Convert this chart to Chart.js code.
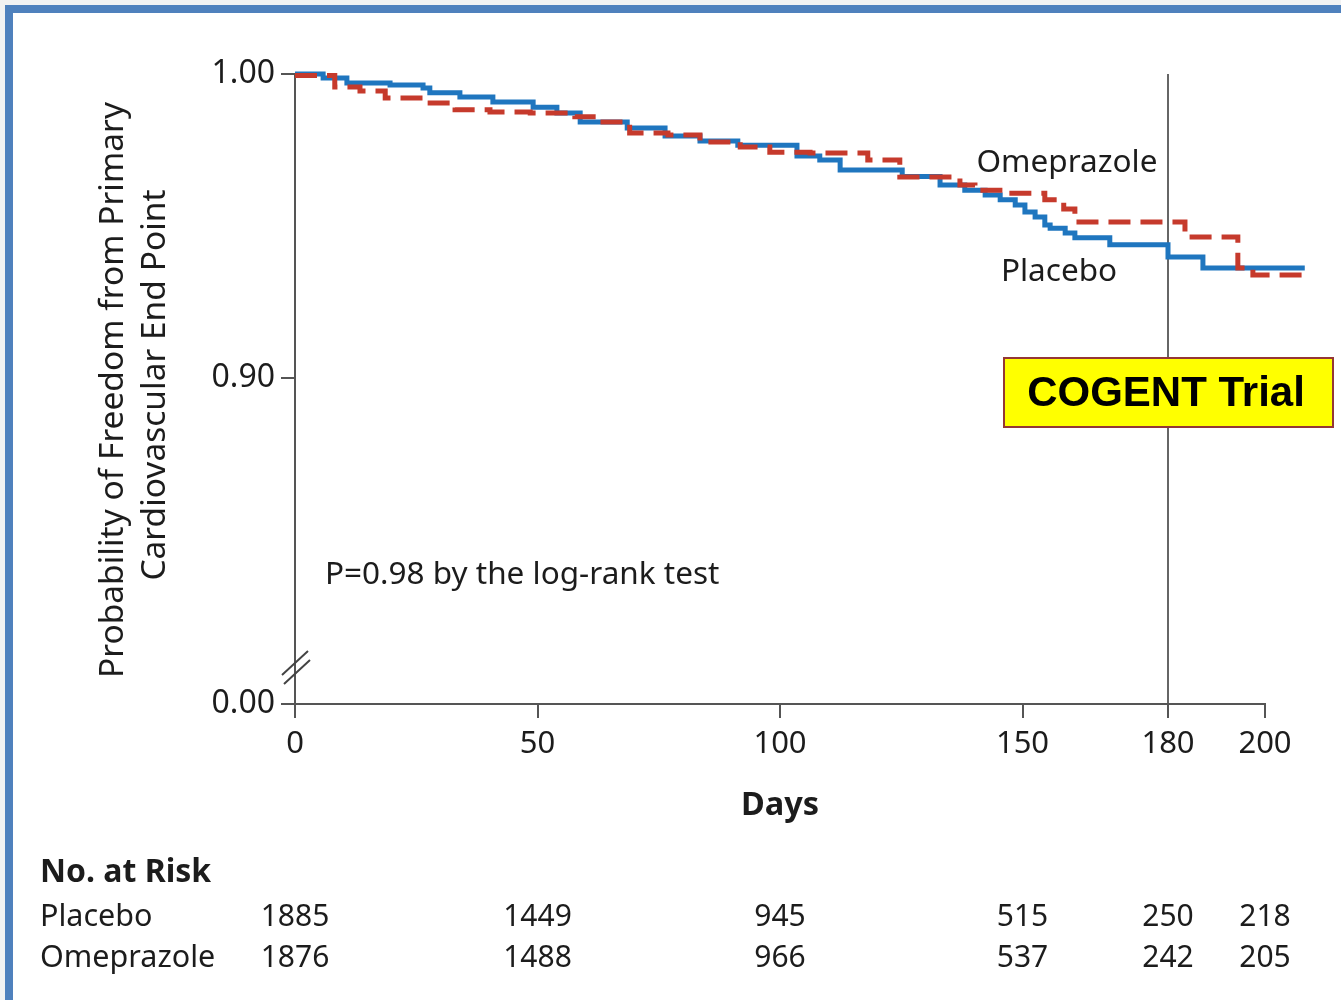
<!DOCTYPE html>
<html>
<head>
<meta charset="utf-8">
<script src="https://cdn.jsdelivr.net/npm/chart.js@4/dist/chart.umd.min.js"></script>
<style>
  html, body { margin: 0; padding: 0; background: #f2f2f2; overflow: hidden; }
  .frame { position: absolute; left: 5px; top: 5px; width: 1400px; height: 1100px;
           border: 8px solid #4f81bd; background: #fff; }
  #kmChart { position: absolute; left: 0; top: 0; }
</style>
</head>
<body>
<div class="frame"></div>
<canvas id="kmChart" width="1341" height="1000"></canvas>
<script>
// Kaplan-Meier steps
const placeboDays = [0, 5.8, 10.7, 19.6, 26.4, 27.8, 34, 40.8, 49.1, 54, 58.8, 68.5, 76.3, 83.5, 91.3, 103.5, 108.2, 112.4, 125.2, 133, 138.1, 142.3, 145.4, 148.5, 150.5, 152.6, 154.6, 155.7, 158.8, 160.8, 168, 180, 187.2, 208.2];
const placeboSurv = [1.000, 0.9987, 0.997, 0.9964, 0.9954, 0.9938, 0.9924, 0.9908, 0.9891, 0.9872, 0.9842, 0.9822, 0.9796, 0.978, 0.9766, 0.973, 0.9717, 0.9684, 0.9663, 0.9635, 0.9618, 0.9602, 0.9586, 0.9569, 0.9546, 0.953, 0.9503, 0.9493, 0.9477, 0.9461, 0.9438, 0.9398, 0.9362, 0.9362];

const omeprazoleDays = [0, 8.2, 13.4, 18.6, 26.8, 33, 40.2, 48.5, 57.7, 62.9, 69, 76.9, 83.5, 91.8, 97.9, 106.2, 118.1, 124.7, 137.1, 140.2, 146.4, 154.6, 158.5, 160.8, 183.5, 194.4, 197.5, 208.2];
const omeprazoleSurv = [0.9995, 0.9957, 0.9944, 0.9921, 0.9905, 0.9882, 0.9875, 0.9872, 0.9859, 0.9842, 0.9806, 0.9799, 0.9776, 0.976, 0.9743, 0.974, 0.9717, 0.9661, 0.9635, 0.9618, 0.9608, 0.9586, 0.9556, 0.9513, 0.9464, 0.9362, 0.9339, 0.9339];

// axis ticks
const xTicks = [0, 50, 100, 150, 180, 200];
const yTicks = [0.90, 1.00];
const yBreak = 0.79276; // bottom of broken axis, labelled 0.00

// number at risk
const riskDays = [0, 50, 100, 150, 180, 200];
const placeboRisk = [1885, 1449, 945, 515, 250, 218];
const omeprazoleRisk = [1876, 1488, 966, 537, 242, 205];

const FONT = '"Noto Sans", "Open Sans", sans-serif';
const TXT = '#1c1c1c';

function toPoints(days, surv) {
    return days.map((d, i) => ({ x: d, y: surv[i] }));
}

// texte, break marks, no-at-risk table
const extrasPlugin = {
    id: 'extras',
    afterDraw(chart) {
        const ctx = chart.ctx;
        const xs = chart.scales.x;
        ctx.save();
        ctx.fillStyle = TXT;
        ctx.textBaseline = 'middle';

        // axis break
        ctx.strokeStyle = '#444';
        ctx.lineWidth = 2;
        ctx.beginPath();
        ctx.moveTo(282, 675); ctx.lineTo(308, 651);
        ctx.moveTo(284, 684); ctx.lineTo(310, 660);
        ctx.stroke();

        // y axis title
        ctx.save();
        ctx.translate(113, 390);
        ctx.rotate(-Math.PI / 2);
        ctx.textAlign = 'center';
        ctx.font = '33.5px ' + FONT;
        ctx.fillText('Probability of Freedom from Primary', 0, 0);
        ctx.fillText('Cardiovascular End Point', 5, 42);
        ctx.restore();

        ctx.font = '31.5px ' + FONT;
        ctx.textAlign = 'center';
        ctx.fillText('Omeprazole', 1067, 163);
        ctx.fillText('Placebo', 1059, 272);
        ctx.textAlign = 'left';
        ctx.fillText('P=0.98 by the log-rank test', 325, 575);

        ctx.font = 'bold 32.5px ' + FONT;
        ctx.textAlign = 'center';
        ctx.fillText('Days', 780, 806);

        // no. at risk
        ctx.textAlign = 'left';
        ctx.font = 'bold 32px ' + FONT;
        ctx.fillText('No. at Risk', 40, 873);
        ctx.font = '30.5px ' + FONT;
        ctx.fillText('Placebo', 40, 917);
        ctx.fillText('Omeprazole', 40, 958);
        ctx.font = '30px ' + FONT;
        ctx.textAlign = 'center';
        riskDays.forEach((d, i) => {
            const px = xs.getPixelForValue(d);
            ctx.fillText(String(placeboRisk[i]), px, 917);
            ctx.fillText(String(omeprazoleRisk[i]), px, 958);
        });

        // COGENT box
        ctx.fillStyle = '#ffff00';
        ctx.fillRect(1003, 357, 331, 71);
        ctx.strokeStyle = '#953735';
        ctx.lineWidth = 2;
        ctx.strokeRect(1004, 358, 329, 69);
        ctx.fillStyle = '#000';
        ctx.font = 'bold 42px "Liberation Sans", Arial, sans-serif';
        ctx.fillText('COGENT Trial', 1166, 394);
        ctx.restore();
    }
};

new Chart(document.getElementById('kmChart'), {
    type: 'line',
    data: {
        datasets: [
            {
                label: 'Placebo',
                data: toPoints(placeboDays, placeboSurv),
                borderColor: '#1f76bf',
                borderWidth: 5,
                stepped: 'before',
                pointRadius: 0,
                fill: false,
                clip: false,
                order: 1
            },
            {
                label: 'Omeprazole',
                data: toPoints(omeprazoleDays, omeprazoleSurv),
                borderColor: '#c63a2c',
                borderWidth: 5,
                borderDash: [22, 10],
                stepped: 'before',
                pointRadius: 0,
                fill: false,
                clip: false,
                order: 0
            }
        ]
    },
    options: {
        responsive: false,
        animation: false,
        layout: { padding: { left: 195, top: 74, right: 76, bottom: 236 } },
        plugins: {
            legend: { display: false },
            tooltip: { enabled: false }
        },
        scales: {
            x: {
                type: 'linear',
                min: 0,
                max: 200,
                afterFit: (s) => { s.height = 60; },
                afterBuildTicks: (s) => { s.ticks = xTicks.map(v => ({ value: v })); },
                border: { display: true, color: '#555', width: 2 },
                grid: {
                    color: (c) => (c.tick && c.tick.value === 180 ? '#666' : 'transparent'),
                    tickColor: '#555',
                    lineWidth: 2,
                    tickLength: 14,
                    drawTicks: true
                },
                ticks: {
                    color: TXT,
                    font: { family: FONT, size: 31 },
                    padding: 8,
                    maxRotation: 0,
                    autoSkip: false
                }
            },
            y: {
                type: 'linear',
                min: yBreak,
                max: 1.0,
                afterFit: (s) => { s.width = 100; },
                afterBuildTicks: (s) => { s.ticks = [yBreak].concat(yTicks).map(v => ({ value: v })); },
                border: { display: true, color: '#555', width: 2 },
                grid: {
                    drawOnChartArea: false,
                    tickColor: '#555',
                    lineWidth: 2,
                    tickLength: 14
                },
                ticks: {
                    color: TXT,
                    font: { family: FONT, size: 32 },
                    padding: 6,
                    callback: (v) => (v === yBreak ? '0.00' : Number(v).toFixed(2))
                }
            }
        }
    },
    plugins: [extrasPlugin]
});
</script>
</body>
</html>
